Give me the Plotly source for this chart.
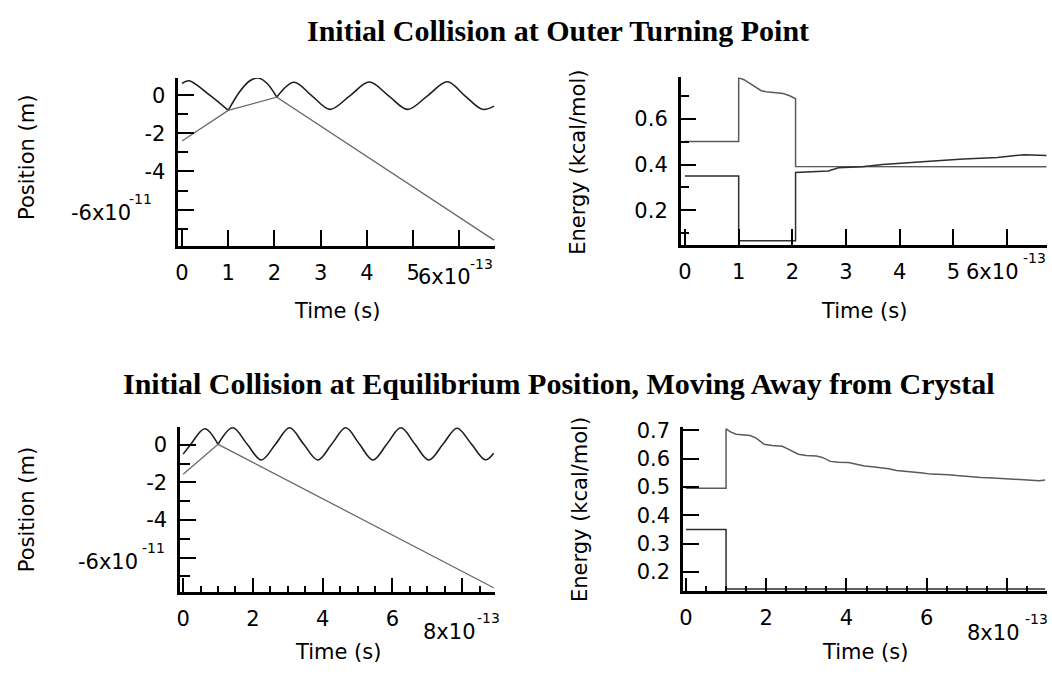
import plotly.graph_objects as go

W, H = 1052, 677
SANS = "DejaVu Sans"
SERIF = "Liberation Serif"

# ---------------- Top row: initial collision at outer turning point ----------------
# time in units of 1e-13 s, position in units of 1e-11 m
top_surf_t = [0.0, 0.15, 0.6, 1.0, 1.25, 1.47, 1.65, 1.83, 2.05,
              2.42, 2.81, 3.2, 3.63, 4.05, 4.47, 4.88, 5.31, 5.74, 6.12, 6.5, 6.75]
top_surf_y = [0.62, 0.76, 0.0, -0.8, 0.2, 0.76, 0.9, 0.64, -0.1,
              0.68, -0.03, -0.74, -0.03, 0.69, -0.03, -0.74, -0.03, 0.71, -0.03, -0.74, -0.57]
top_coll_t = [1.0, 2.05]
top_gas_t = [0.0, 1.0, 2.05, 6.75]
top_gas_y = [-2.4, -0.8, -0.1, -7.6]

# energies (kcal/mol)
top_ea_t = [0.0, 1.0, 1.0, 1.1, 1.2, 1.32, 1.42, 1.51, 1.65, 1.83, 1.95, 2.03, 2.06,
            2.06, 3.0, 4.0, 5.0, 6.0, 6.74]
top_ea_y = [0.5, 0.5, 0.778, 0.77, 0.755, 0.735, 0.722, 0.717, 0.714, 0.71, 0.70, 0.69, 0.687,
            0.392, 0.392, 0.391, 0.391, 0.39, 0.39]
top_eb_t = [0.0, 1.0, 1.0, 2.06, 2.06, 2.2, 2.42, 2.67, 2.86, 3.3, 3.68, 4.12, 4.56,
            5.19, 5.82, 6.32, 6.74]
top_eb_y = [0.35, 0.35, 0.068, 0.068, 0.365, 0.367, 0.37, 0.372, 0.386, 0.39, 0.40, 0.406, 0.414,
            0.424, 0.431, 0.443, 0.439]

# ---------------- Bottom row: equilibrium position, moving away ----------------
bot_surf_t = [0.0, 0.22, 0.62, 1.0, 1.42, 1.83, 2.24, 2.65, 3.05, 3.45, 3.86, 4.26,
              4.66, 5.05, 5.44, 5.84, 6.24, 6.64, 7.04, 7.45, 7.85, 8.26, 8.66, 8.9]
bot_surf_y = [-0.5, 0.03, 0.85, 0.02, 0.9, 0.04, -0.81, 0.04, 0.9, 0.04, -0.81, 0.04,
              0.9, 0.04, -0.81, 0.04, 0.9, 0.04, -0.81, 0.04, 0.88, 0.04, -0.8, -0.45]
bot_coll_t = [1.0]
bot_gas_t = [0.0, 1.0, 8.9]
bot_gas_y = [-1.57, 0.02, -7.6]

bot_ea_t = [0.0, 1.0, 1.0, 1.1, 1.25, 1.45, 1.6, 1.75, 1.95, 2.15, 2.4, 2.55, 2.8, 3.0,
            3.25, 3.4, 3.6, 3.8, 4.05, 4.25, 4.45, 4.65, 4.9, 5.05, 5.25, 5.5, 5.7, 5.9,
            6.1, 6.3, 6.55, 6.75, 6.95, 7.15, 7.35, 7.55, 7.75, 7.95, 8.15, 8.35, 8.6, 8.8, 8.95]
bot_ea_y = [0.495, 0.495, 0.705, 0.695, 0.686, 0.684, 0.681, 0.672, 0.65, 0.646, 0.643, 0.633,
            0.615, 0.611, 0.609, 0.604, 0.59, 0.587, 0.586, 0.58, 0.574, 0.571, 0.568, 0.564,
            0.558, 0.555, 0.553, 0.549, 0.545, 0.545, 0.543, 0.54, 0.537, 0.535, 0.533, 0.532,
            0.53, 0.529, 0.527, 0.526, 0.522, 0.522, 0.524]
bot_eb_t = [0.0, 1.0, 1.0, 8.95]
bot_eb_y = [0.35, 0.35, 0.14, 0.14]

WAVE = "#1f1f1f"
LINE = "#6a6a6a"
EA = "#5a5a5a"
EB = "#2e2e2e"

fig = go.Figure()


def split_segments(t, y, cuts):
    """Break a trajectory into pieces at the collision times (shared end points)."""
    bounds = [t[0]] + list(cuts) + [t[-1]]
    segs = []
    for a, b in zip(bounds[:-1], bounds[1:]):
        st = [ti for ti in t if a <= ti <= b]
        sy = [yi for ti, yi in zip(t, y) if a <= ti <= b]
        segs.append((st, sy))
    return segs


def add_traj(t, y, cuts, xa, ya):
    for st, sy in split_segments(t, y, cuts):
        fig.add_trace(go.Scatter(x=st, y=sy, mode="lines", xaxis=xa, yaxis=ya,
                                 line=dict(color=WAVE, width=1.6, shape="spline", smoothing=1.0),
                                 showlegend=False, hoverinfo="skip"))


def add_line(t, y, xa, ya, color, width=1.3):
    fig.add_trace(go.Scatter(x=t, y=y, mode="lines", xaxis=xa, yaxis=ya,
                             line=dict(color=color, width=width),
                             showlegend=False, hoverinfo="skip"))


add_traj(top_surf_t, top_surf_y, top_coll_t, "x", "y")
add_line(top_gas_t, top_gas_y, "x", "y", LINE)
add_line(top_ea_t, top_ea_y, "x2", "y2", EA, 1.5)
add_line(top_eb_t, top_eb_y, "x2", "y2", EB, 1.5)
add_traj(bot_surf_t, bot_surf_y, bot_coll_t, "x3", "y3")
add_line(bot_gas_t, bot_gas_y, "x3", "y3", LINE)
add_line(bot_ea_t, bot_ea_y, "x4", "y4", EA, 1.5)
add_line(bot_eb_t, bot_eb_y, "x4", "y4", EB, 1.5)

tickfont = dict(family=SANS, size=21, color="black")


def axis(domain, rng, tickvals, ticktext, ticklen, minor_vals=None, minor_len=0, anchor=None):
    d = dict(domain=domain, range=rng, tickmode="array", tickvals=tickvals, ticktext=ticktext,
             ticks="inside", ticklen=ticklen, tickwidth=2, tickcolor="black",
             showline=True, linecolor="black", linewidth=2.5, showgrid=False, zeroline=False,
             tickfont=tickfont, anchor=anchor, ticklabelstandoff=6)
    if minor_vals:
        d["minor"] = dict(tickmode="array", tickvals=minor_vals, ticks="inside",
                          ticklen=minor_len, tickwidth=2, tickcolor="black", showgrid=False)
    return d


def px(x):
    return x / W


def py(y):
    return 1 - y / H


half_steps = [i * 0.5 for i in range(1, 18) if i % 4 != 0]

fig.update_layout(
    width=W, height=H, margin=dict(l=0, r=0, t=0, b=0),
    paper_bgcolor="white", plot_bgcolor="white",
    xaxis=axis([px(175), px(493.3)], [-0.08, 6.78], [0, 1, 2, 3, 4, 5, 6],
               ["0", "1", "2", "3", "4", "5", ""], 16, anchor="y"),
    yaxis=axis([py(240), py(70)], [-7.9, 0.9], [0, -2, -4, -6], ["0", "-2", "-4", ""], 16,
               [-1, -3, -5, -7], 10, anchor="x"),
    xaxis2=axis([px(679.3), px(1046.7)], [-0.08, 6.74], [0, 1, 2, 3, 4, 5, 6],
                ["0", "1", "2", "3", "4", "5", ""], 16, anchor="y2"),
    yaxis2=axis([py(239), py(69.3)], [0.05, 0.78], [0.2, 0.4, 0.6], ["0.2", "0.4", "0.6"], 16,
                [0.1, 0.3, 0.5, 0.7], 9, anchor="x2"),
    xaxis3=axis([px(176.7), px(493.3)], [-0.09, 8.95], [0, 2, 4, 6, 8],
                ["0", "2", "4", "6", ""], 14, half_steps, 6, anchor="y3"),
    yaxis3=axis([py(590.7), py(423.3)], [-7.82, 0.96], [0, -2, -4, -6], ["0", "-2", "-4", ""], 16,
                [-1, -3, -5, -7], 10, anchor="x3"),
    xaxis4=axis([px(681.7), px(1046.7)], [-0.07, 8.99], [0, 2, 4, 6, 8],
                ["0", "2", "4", "6", ""], 13, half_steps, 5, anchor="y4"),
    yaxis4=axis([py(590), py(424)], [0.132, 0.71], [0.2, 0.3, 0.4, 0.5, 0.6, 0.7],
                ["0.2", "0.3", "0.4", "0.5", "0.6", "0.7"], 16, anchor="x4"),
)

ann = []


def text(x, y, s, size=21, xanchor="center", yanchor="middle", angle=0, family=SANS, bold=False):
    if bold:
        s = "<b>" + s + "</b>"
    ann.append(dict(x=px(x), y=py(y), xref="paper", yref="paper", text=s, showarrow=False,
                    xanchor=xanchor, yanchor=yanchor, textangle=angle,
                    font=dict(family=family, size=size, color="black")))


# panel titles
text(556, 22, "Initial Collision at Outer Turning Point", 30, family=SERIF, bold=True)
text(557, 380, "Initial Collision at Equilibrium Position, Moving Away from Crystal", 30,
     family=SERIF, bold=True)

# axis titles
text(23, 150, "Position (m)", angle=-90)
text(576, 155, "Energy (kcal/mol)", angle=-90)
text(23, 507, "Position (m)", angle=-90)
text(578, 507, "Energy (kcal/mol)", angle=-90)
text(334, 306, "Time (s)")
text(863, 306, "Time (s)")
text(335, 652, "Time (s)")
text(864, 652, "Time (s)")

# scale factor labels at the axis ends
text(471, 271.7, "6x10", xanchor="right")
text(493.3, 258, "-13", 14, xanchor="right")
text(1021, 266.7, "6x10", xanchor="right")
text(1048, 252, "-13", 14, xanchor="right")
text(476, 631.7, "8x10", xanchor="right")
text(500, 617, "-13", 14, xanchor="right")
text(1022, 632.3, "8x10", xanchor="right")
text(1050, 618.3, "-13", 14, xanchor="right")
text(129, 206.7, "-6x10", xanchor="right")
text(151, 193, "-11", 14, xanchor="right")
text(137, 560.7, "-6x10", xanchor="right")
text(164, 546.7, "-11", 14, xanchor="right")

fig.update_layout(annotations=ann)
fig.write_html("out.html")
